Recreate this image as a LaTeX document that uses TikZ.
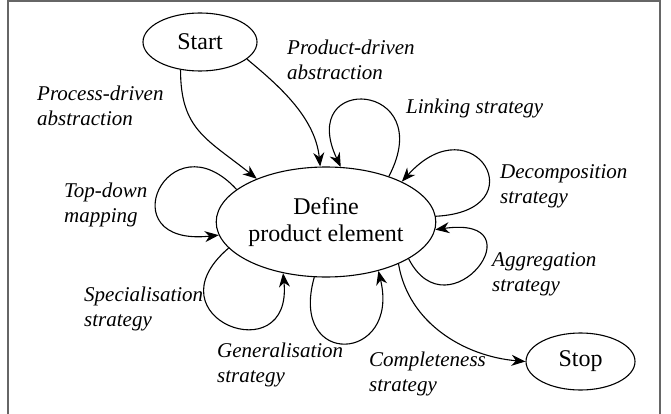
\documentclass[tikz,border=0pt]{standalone}
\usepackage{fontspec}
\setmainfont{Liberation Serif}
\usetikzlibrary{shapes.geometric,arrows.meta}
\begin{document}
\begin{tikzpicture}[x=1pt,y=-1pt,
  state/.style={draw,ellipse,line width=1.1pt,inner sep=0pt,font=\fontsize{24}{26.5}\selectfont,align=center},
  lbl/.style={anchor=west,inner sep=0pt,align=left,font=\fontsize{21}{25}\selectfont\itshape},
  conn/.style={line width=1.1pt,-{Stealth[length=14pt,width=11pt,inset=4.5pt]}}]
\useasboundingbox (0,0) rectangle (671,414);
\draw[line width=2pt,color=black!60] (7.5,416) -- (7.5,1.5) -- (660,1.5) -- (660,416);

\node[state,minimum width=114pt,minimum height=58pt] (start) at (200,42) {Start};
\node[state,minimum width=208pt,minimum height=110pt] (def) at (326,222) {Define\\product element};
\node[state,minimum width=109pt,minimum height=57pt] (stop) at (580.5,361.5) {Stop};

\node[lbl] (lpro) at (37,105.5) {Process-driven\\abstraction};
\node[lbl] (lprd) at (287,59.5) {Product-driven\\abstraction};
\node[lbl] (llnk) at (406,108) {Linking strategy};
\node[lbl] (ldec) at (500,186) {Decomposition\\strategy};
\node[lbl] (ltop) at (64,205) {Top-down\\mapping};
\node[lbl] (lagg) at (492,274.5) {Aggregation\\strategy};
\node[lbl] (lspe) at (84,308.5) {Specialisation\\strategy};
\node[lbl] (lgen) at (217,364.5) {Generalisation\\strategy};
\node[lbl] (lcom) at (369,373.5) {Completeness\\strategy};

% Start -> Define
\draw[conn] (start.-125) .. controls +(0,60) and +(-50,-40) .. (def.148);
\draw[conn] (start.-20) .. controls +(30,25) and +(-5,-50) .. (def.96);
% Linking
\draw[conn] (def.36) .. controls +(50,-95) and +(-45,-95) .. (def.75);
% Decomposition
\draw[conn] (def.3) .. controls +(103,-5) and +(72,-80) .. (def.28);
% Aggregation
\draw[conn] (def.-24) .. controls +(40,78) and +(106,-15) .. (def.-4);
% Completeness
\draw[conn] (def.-30) .. controls +(10,60) and +(-60,-5) .. (stop.west);
% Generalisation
\draw[conn] (def.-102) .. controls +(-26,92) and +(22,92) .. (def.-43);
% Specialisation
\draw[conn] (def.-165) .. controls +(-82,70) and +(10,100) .. (def.-130);
% Top-down
\draw[conn] (def.160) .. controls +(-68,-74) and +(-112,12) .. (def.-173);
\end{tikzpicture}
\end{document}
